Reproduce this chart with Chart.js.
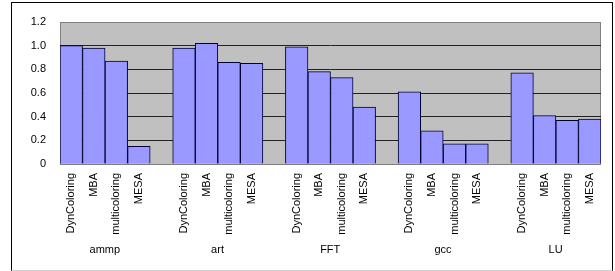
<!DOCTYPE html>
<html>
<head>
<meta charset="utf-8">
<script src="https://cdn.jsdelivr.net/npm/chart.js@4"></script>
<style>
  html, body { margin: 0; padding: 0; background: #fff; }
  #wrap { position: relative; width: 615px; height: 271px; }
  #frame {
    position: absolute; left: 11px; top: 2px; width: 602px; height: 269px;
    box-sizing: border-box; border: 1px solid #000; border-bottom-color: #d0d0d0;
    pointer-events: none;
  }
</style>
</head>
<body>
<div id="wrap">
  <canvas id="chart" width="615" height="271"></canvas>
  <div id="frame"></div>
</div>
<script>
// benchmarks and methods
const groups = ["ammp", "art", "FFT", "gcc", "LU"];
const methods = ["DynColoring", "MBA", "multicoloring", "MESA"];

// values per method, one per benchmark
const dynColoring = [1.0, 0.98, 0.99, 0.61, 0.77];
const mba = [0.98, 1.02, 0.78, 0.28, 0.41];
const multicoloring = [0.87, 0.86, 0.73, 0.17, 0.37];
const mesa = [0.15, 0.85, 0.48, 0.17, 0.38];

const yTicks = [0, 0.2, 0.4, 0.6, 0.8, 1, 1.2];

document.addEventListener("DOMContentLoaded", function () {
  const series = [dynColoring, mba, multicoloring, mesa];

  // one slot per bar, an empty slot between benchmarks
  let labels = [];
  let groupLabels = [];
  let values = [];
  groups.forEach((g, gi) => {
    if (gi > 0) {
      labels.push("");
      groupLabels.push("");
      values.push(null);
    }
    methods.forEach((m, mi) => {
      labels.push(m);
      // group name sits on the 2nd bar, shifted half a slot right
      groupLabels.push(mi === 1 ? g : "");
      values.push(series[mi][gi]);
    });
  });

  const font = { family: "'Liberation Sans', Arial, sans-serif", size: 11 };

  const plotBg = {
    id: "plotBg",
    beforeDraw(chart) {
      const a = chart.chartArea;
      const ctx = chart.ctx;
      ctx.save();
      ctx.fillStyle = "#c0c0c0";
      ctx.fillRect(a.left, a.top, a.right - a.left, a.bottom - a.top);
      ctx.strokeStyle = "#808080";
      ctx.lineWidth = 1;
      ctx.strokeRect(a.left + 0.5, a.top + 0.5, a.right - a.left - 1, a.bottom - a.top);
      ctx.restore();
    },
  };

  new Chart(document.getElementById("chart").getContext("2d"), {
    type: "bar",
    data: {
      labels: labels,
      datasets: [
        {
          data: values,
          backgroundColor: "#9999ff",
          borderColor: "#000033",
          borderWidth: 1,
          barPercentage: 1,
          categoryPercentage: 1,
        },
      ],
    },
    options: {
      responsive: false,
      animation: false,
      layout: { padding: { left: 0, right: 14, top: 22, bottom: 0 } },
      plugins: { legend: { display: false }, tooltip: { enabled: false } },
      scales: {
        x: {
          type: "category",
          position: "bottom",
          grid: { display: false, drawTicks: false },
          border: { display: false },
          ticks: {
            autoSkip: false,
            minRotation: 90,
            maxRotation: 90,
            padding: 9,
            color: "#000",
            font: font,
          },
          afterFit: (s) => { s.height = 76; },
        },
        groups: {
          type: "category",
          position: "bottom",
          labels: groupLabels,
          offset: true,
          grid: { display: false, drawTicks: false },
          border: { display: false },
          ticks: {
            autoSkip: false,
            maxRotation: 0,
            minRotation: 0,
            labelOffset: 11,
            padding: 3,
            color: "#000",
            font: font,
          },
          afterFit: (s) => { s.height = 31; },
        },
        y: {
          min: 0,
          max: 1.2,
          afterBuildTicks: (s) => { s.ticks = yTicks.map((v) => ({ value: v })); },
          grid: {
            drawTicks: false,
            color: (c) => (c.tick.value === 0 || c.tick.value === 1.2 ? "rgba(0,0,0,0)" : "#222"),
          },
          border: { display: false },
          ticks: { padding: 14, color: "#000", font: font },
          afterFit: (s) => { s.width = 60; },
        },
      },
    },
    plugins: [plotBg],
  });
});
</script>
</body>
</html>
